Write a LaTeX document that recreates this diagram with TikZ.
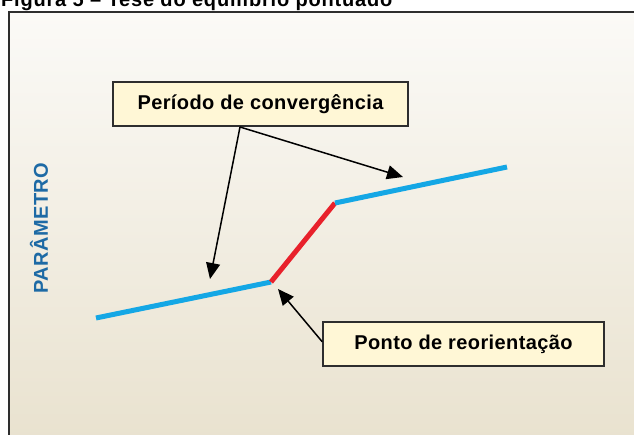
\documentclass[tikz,border=0pt]{standalone}
\usepackage{fontspec}
\setmainfont{Liberation Sans}
\usetikzlibrary{arrows.meta,calc}
\definecolor{TrendBlue}{HTML}{14a7e5}
\definecolor{TrendRed}{HTML}{e8212b}
\definecolor{AxisBlue}{HTML}{1d6aa5}
\definecolor{NoteYellow}{HTML}{fff7d6}
\definecolor{PaperTop}{HTML}{fbfaf7}
\definecolor{PaperBottom}{HTML}{e9e2cf}
\definecolor{FrameGray}{HTML}{2e2e2e}
\tikzset{
  callout/.style={draw=FrameGray,line width=1.6pt,fill=NoteYellow,inner sep=0pt,
    minimum height=44pt,font=\bfseries\fontsize{20}{22}\selectfont\addfontfeatures{LetterSpace=2}},
  pointer/.style={line width=1.5pt,-{Triangle[length=16pt,width=14pt]}},
  trend/.style={line width=5pt,TrendBlue},
}

\begin{document}
\begin{tikzpicture}[x=1pt,y=-1pt]
   \useasboundingbox (0,0) rectangle (634,434);
   \shade[top color=PaperTop,bottom color=PaperBottom] (9,12) rectangle (640,440);
   \draw[FrameGray,line width=2.5pt] (9,440) -- (9,12) -- (640,12);
   \node[anchor=base west,inner sep=0pt,font=\bfseries\fontsize{20}{22}\selectfont\addfontfeatures{LetterSpace=4}] (title) at (1,6) {Figura 5 -- Tese do equilíbrio pontuado};

   % eixo
   \node[rotate=90,text=AxisBlue,inner sep=0pt,font=\bfseries\fontsize{20}{22}\selectfont\addfontfeatures{LetterSpace=2}] (param) at (39,228) {PARÂMETRO};

   % trajetoria
   \coordinate (a) at (96,318);
   \coordinate (b) at (271,282);
   \coordinate (c) at (335,203);
   \coordinate (d) at (507,167);
   \draw[trend] (a) -- (b);
   \draw[line width=5pt,TrendRed] (b) -- (c);
   \draw[trend] (c) -- (d);

   % caixas
   \node[callout,minimum width=295pt] (conv) at (260.5,104) {Período de convergência};
   \node[callout,minimum width=281pt] (reo) at (463.5,344) {Ponto de reorientação};

   \coordinate (fork) at (240,127);
   \coordinate (tipab) at (210,279);
   \coordinate (tipcd) at (403,177);
   \coordinate (tipb) at (278,289);
   \draw[pointer] (fork) -- (tipab);
   \draw[pointer] (fork) -- (tipcd);
   \draw[pointer] ($(reo.north west)!0.45!(reo.south west)$) -- (tipb);
\end{tikzpicture}
\end{document}
